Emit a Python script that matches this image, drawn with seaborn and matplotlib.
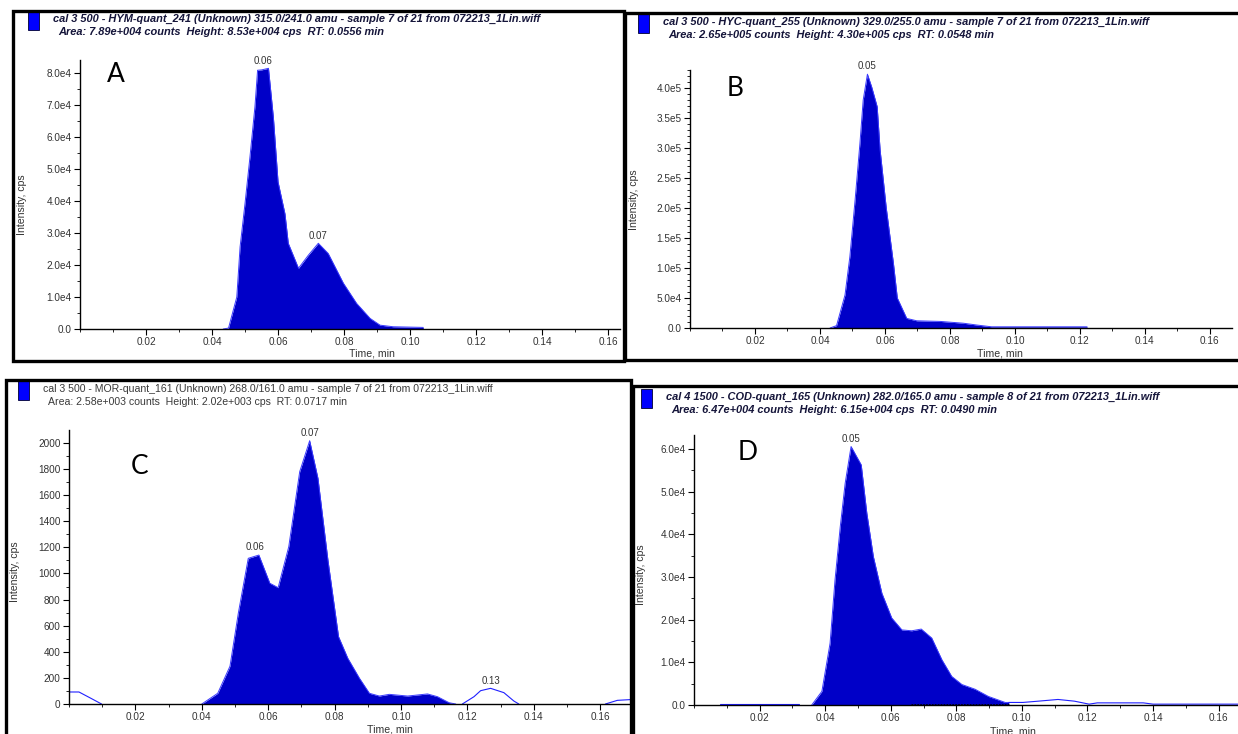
import numpy as np
import pandas as pd
import seaborn as sns
import matplotlib.pyplot as plt
from matplotlib.patches import Rectangle
from matplotlib.ticker import FixedLocator, MultipleLocator

# ---- data (time in min, intensity in cps) ----
# A: HYM-quant_241
a_time = [0.0434, 0.0450, 0.0475, 0.0485, 0.0500, 0.0515, 0.0530, 0.0538, 0.0550, 0.0571,
          0.0586, 0.0600, 0.0621, 0.0631, 0.0662, 0.0692, 0.0722, 0.0752, 0.0798, 0.0838,
          0.0879, 0.0909, 0.0949, 0.1040]
a_int = [0, 300, 10000, 25700, 39300, 53900, 69500, 80900, 81000, 81500,
         66000, 46000, 36000, 26800, 19000, 23100, 26800, 23600, 14300, 8000,
         3300, 1200, 700, 500]

# B: HYC-quant_255
b_time = [0.0431, 0.0451, 0.0477, 0.0492, 0.0508, 0.0523, 0.0533, 0.0546, 0.0559, 0.0576,
          0.0585, 0.0604, 0.0626, 0.0638, 0.0667, 0.0698, 0.0769, 0.0841, 0.0882, 0.0928,
          0.1222]
b_int = [0, 4000, 55000, 119000, 213000, 308000, 380000, 423000, 402000, 369000,
         297000, 200000, 108000, 50000, 16000, 12000, 11000, 8000, 5000, 2000,
         2000]

# C: MOR-quant_161
c_time = [0.0400, 0.0448, 0.0485, 0.0510, 0.0540, 0.0572, 0.0605, 0.0630, 0.0662, 0.0695,
          0.0725, 0.0750, 0.0780, 0.0812, 0.0840, 0.0875, 0.0905, 0.0935, 0.0965, 0.1020,
          0.1080, 0.1110, 0.1145, 0.1165]
c_int = [0, 82, 290, 695, 1116, 1141, 925, 891, 1205, 1780,
         2017, 1729, 1103, 516, 350, 197, 82, 61, 74, 61,
         77, 56, 10, 0]
c_left_time = [0.0, 0.0030, 0.0065, 0.0098]
c_left_int = [92, 92, 45, 0]
c_small_time = [0.1185, 0.1220, 0.1240, 0.1270, 0.1310, 0.1340, 0.1355]
c_small_int = [0, 56, 102, 120, 87, 23, 0]
c_right_time = [0.1616, 0.1652, 0.1700]
c_right_int = [0, 28, 35]

# D: COD-quant_165
d_time = [0.0359, 0.0390, 0.0415, 0.0430, 0.0446, 0.0461, 0.0479, 0.0510, 0.0527, 0.0547,
          0.0573, 0.0603, 0.0634, 0.0664, 0.0693, 0.0725, 0.0756, 0.0786, 0.0817, 0.0857,
          0.0898, 0.0949, 0.0960]
d_int = [0, 3200, 14500, 29300, 41800, 52000, 60600, 56300, 45000, 34800,
         26200, 20400, 17600, 17400, 17800, 15700, 10600, 6700, 4800, 3700,
         2000, 600, 600]
d_pre_time = [0.0078, 0.0320]
d_pre_int = [200, 200]
d_post_time = [0.0960, 0.1003, 0.1050, 0.1110, 0.1160, 0.1205, 0.1230, 0.1370, 0.1400, 0.1700]
d_post_int = [600, 600, 900, 1300, 900, 200, 500, 500, 200, 200]
d_base_time = [0.0344, 0.0663, 0.0663, 0.0960]
d_base_int = [100, 100, 300, 300]

# peak apex labels (time, intensity, text)
a_peaks = [(0.0555, 81500, "0.06"), (0.0722, 26800, "0.07")]
b_peaks = [(0.0546, 423000, "0.05")]
c_peaks = [(0.0560, 1141, "0.06"), (0.0725, 2017, "0.07"), (0.1270, 120, "0.13")]
d_peaks = [(0.0479, 60600, "0.05")]

# axis ticks
x_ticks = [0.02, 0.04, 0.06, 0.08, 0.10, 0.12, 0.14, 0.16]
x_labels = ["0.02", "0.04", "0.06", "0.08", "0.10", "0.12", "0.14", "0.16"]
a_yticks = [0, 1e4, 2e4, 3e4, 4e4, 5e4, 6e4, 7e4, 8e4]
a_ylabels = ["0.0", "1.0e4", "2.0e4", "3.0e4", "4.0e4", "5.0e4", "6.0e4", "7.0e4", "8.0e4"]
b_yticks = [0, 5e4, 1e5, 1.5e5, 2e5, 2.5e5, 3e5, 3.5e5, 4e5]
b_ylabels = ["0.0", "5.0e4", "1.0e5", "1.5e5", "2.0e5", "2.5e5", "3.0e5", "3.5e5", "4.0e5"]
c_yticks = [0, 200, 400, 600, 800, 1000, 1200, 1400, 1600, 1800, 2000]
c_ylabels = ["0", "200", "400", "600", "800", "1000", "1200", "1400", "1600", "1800", "2000"]
d_yticks = [0, 1e4, 2e4, 3e4, 4e4, 5e4, 6e4]
d_ylabels = ["0.0", "1.0e4", "2.0e4", "3.0e4", "4.0e4", "5.0e4", "6.0e4"]

# header texts
a_title = "cal 3 500 - HYM-quant_241 (Unknown) 315.0/241.0 amu - sample 7 of 21 from 072213_1Lin.wiff"
a_info = "Area: 7.89e+004 counts  Height: 8.53e+004 cps  RT: 0.0556 min"
b_title = "cal 3 500 - HYC-quant_255 (Unknown) 329.0/255.0 amu - sample 7 of 21 from 072213_1Lin.wiff"
b_info = "Area: 2.65e+005 counts  Height: 4.30e+005 cps  RT: 0.0548 min"
c_title = "cal 3 500 - MOR-quant_161 (Unknown) 268.0/161.0 amu - sample 7 of 21 from 072213_1Lin.wiff"
c_info = "Area: 2.58e+003 counts  Height: 2.02e+003 cps  RT: 0.0717 min"
d_title = "cal 4 1500 - COD-quant_165 (Unknown) 282.0/165.0 amu - sample 8 of 21 from 072213_1Lin.wiff"
d_info = "Area: 6.47e+004 counts  Height: 6.15e+004 cps  RT: 0.0490 min"

sns.set_style("ticks")
plt.rcParams['font.family'] = ['Liberation Sans', 'DejaVu Sans']

FILL = '#0000c8'
EDGE = '#3a3aff'
TXT = '#333333'

W, H = 1238, 734
fig = plt.figure(figsize=(W / 100, H / 100), dpi=100)


def box(l, t, r, b):
    return [l / W, 1 - b / H, (r - l) / W, (b - t) / H]


def ftext(x, y, s, **kw):
    fig.text(x / W, 1 - y / H, s, **kw)


def panel(pos, xmax, ymax, yt, yl, yminor, t, y, peaks):
    ax = fig.add_axes(box(*pos))
    ax.fill_between(t, y, color=FILL, lw=0)
    sns.lineplot(x=t, y=y, ax=ax, color=EDGE, lw=0.7)
    ax.set_xlim(0, xmax)
    ax.set_ylim(0, ymax)
    ax.xaxis.set_major_locator(FixedLocator(x_ticks))
    ax.set_xticklabels(x_labels)
    ax.xaxis.set_minor_locator(MultipleLocator(0.01))
    ax.yaxis.set_major_locator(FixedLocator(yt))
    ax.set_yticklabels(yl)
    ax.yaxis.set_minor_locator(MultipleLocator(yminor))
    ax.tick_params(which='major', length=4, width=0.8, labelsize=7.2, colors='black',
                   labelcolor=TXT, pad=2)
    ax.tick_params(which='minor', length=2, width=0.6, colors='black')
    for s in ['top', 'right']:
        ax.spines[s].set_visible(False)
    for s in ['left', 'bottom']:
        ax.spines[s].set_linewidth(1.0)
        ax.spines[s].set_color('black')
    ax.set_xlabel('')
    ax.set_ylabel('')
    ax.set_facecolor('white')
    for pt, pv, lab in peaks:
        ax.annotate(lab, xy=(pt, pv), xytext=(0, 2), textcoords='offset points',
                    ha='center', va='bottom', fontsize=7, color=TXT)
    return ax


def header(x, y, title, info, italic=True):
    sq = Rectangle(((x - 25) / W, 1 - (y + 11) / H), 11 / W, 19 / H, transform=fig.transFigure,
                   facecolor='#0000ff', edgecolor='#000033', lw=0.6)
    fig.patches.append(sq)
    kw = dict(va='center', ha='left')
    if italic:
        kw.update(fontsize=7.9, fontweight='bold', fontstyle='italic', color='#15153a')
    else:
        kw.update(fontsize=7.6, color='#3a3a3a')
    ftext(x, y, title, **kw)
    ftext(x + 5, y + 13, info, **kw)


def frame(l, t, r, b):
    fig.patches.append(Rectangle((l / W, 1 - b / H), (r - l) / W, (b - t) / H,
                                 transform=fig.transFigure, fill=False,
                                 edgecolor='black', lw=2.4))


# ---- panels ----
ax_a = panel((80, 60, 620, 329), 0.1636, 84100, a_yticks, a_ylabels, 5000, a_time, a_int, a_peaks)

ax_b = panel((690, 70, 1232, 328), 0.1668, 430000, b_yticks, b_ylabels, 10000, b_time, b_int, b_peaks)

ax_c = panel((69, 430, 630, 704), 0.169, 2099, c_yticks, c_ylabels, 100, c_time, c_int, c_peaks)
for tt, vv in [(c_left_time, c_left_int), (c_small_time, c_small_int), (c_right_time, c_right_int)]:
    sns.lineplot(x=tt, y=vv, ax=ax_c, color='#2020ff', lw=0.8)
ax_c.set_xlim(0, 0.169)

ax_d = panel((694, 435, 1238, 705), 0.1659, 63300, d_yticks, d_ylabels, 5000, d_time, d_int, d_peaks)
for tt, vv in [(d_pre_time, d_pre_int), (d_post_time, d_post_int)]:
    sns.lineplot(x=tt, y=vv, ax=ax_d, color='#2020ff', lw=0.8)
ax_d.plot(d_base_time, d_base_int, color='black', lw=0.6, ls=(0, (2, 1.5)))
ax_d.set_xlim(0, 0.1659)

# axis titles
for x, y in [(22, 205), (634, 200), (15, 572), (641, 575)]:
    ftext(x, y, 'Intensity, cps', rotation=90, ha='center', va='center', fontsize=7.6, color=TXT)
for x, y in [(372, 354), (1000, 354), (390, 729), (1013, 731)]:
    ftext(x, y, 'Time, min', ha='center', va='center', fontsize=7.6, color=TXT)

# headers
header(53, 19, a_title, a_info)
header(663, 22, b_title, b_info)
header(43, 389, c_title, c_info, italic=False)
header(666, 397, d_title, d_info)

# panel letters
for x, y, s in [(116, 74, 'A'), (735, 88, 'B'), (140, 466, 'C'), (748, 452, 'D')]:
    ftext(x, y, s, ha='center', va='center', fontsize=19, color='black', family=['Lato', 'DejaVu Sans'])

# panel frames
frame(13, 11, 624, 361)
frame(625, 13, 1242, 360)
frame(6, 380, 631, 740)
frame(633, 386, 1242, 740)

fig.savefig('out.png', dpi=100, facecolor='white')
